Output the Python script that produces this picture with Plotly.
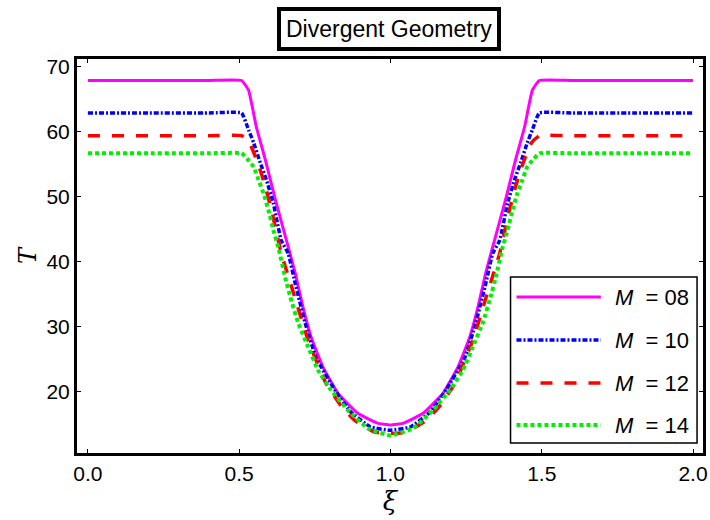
import plotly.graph_objects as go

# ---- data ----
x_m08 = [0.0, 0.2, 0.4, 0.508, 0.531, 0.557, 0.587, 0.620, 0.662, 0.685, 0.711, 0.738, 0.777, 0.826, 0.892, 0.957, 1.0,
         1.043, 1.108, 1.174, 1.223, 1.262, 1.289, 1.315, 1.338, 1.380, 1.413, 1.443, 1.469, 1.492, 1.6, 1.8, 2.0]
t_m08 = [67.8, 67.8, 67.8, 67.8, 66.3, 60.6, 55.5, 49.4, 42.2, 38.2, 32.9, 28.3, 23.7, 19.7, 16.6, 15.1, 14.8,
         15.1, 16.6, 19.7, 23.7, 28.3, 32.9, 38.2, 42.2, 49.4, 55.5, 60.6, 66.3, 67.8, 67.8, 67.8, 67.8]

x_m10 = [0.0, 0.2, 0.4, 0.508, 0.531, 0.548, 0.570, 0.590, 0.613, 0.639, 0.662, 0.685, 0.718, 0.754, 0.816, 0.869, 0.934, 1.0,
         1.066, 1.131, 1.184, 1.246, 1.282, 1.315, 1.338, 1.361, 1.387, 1.410, 1.430, 1.452, 1.469, 1.492, 1.6, 1.8, 2.0]
t_m10 = [62.8, 62.8, 62.8, 62.8, 60.2, 58.2, 55.1, 52.5, 48.9, 43.2, 41.2, 36.6, 30.5, 25.2, 20.2, 16.8, 14.5, 14.0,
         14.5, 16.8, 20.2, 25.2, 30.5, 36.6, 41.2, 43.2, 48.9, 52.5, 55.1, 58.2, 60.2, 62.8, 62.8, 62.8, 62.8]

x_m12 = [0.0, 0.2, 0.4, 0.508, 0.534, 0.564, 0.587, 0.607, 0.623, 0.639, 0.685, 0.728, 0.787, 0.836, 0.882, 0.948, 1.0,
         1.052, 1.118, 1.164, 1.213, 1.272, 1.315, 1.361, 1.377, 1.393, 1.413, 1.436, 1.466, 1.492, 1.6, 1.8, 2.0]
t_m12 = [59.3, 59.3, 59.3, 59.3, 58.2, 54.8, 51.4, 47.8, 44.5, 41.2, 34.3, 27.8, 21.2, 17.8, 15.5, 13.7, 13.5,
         13.7, 15.5, 17.8, 21.2, 27.8, 34.3, 41.2, 44.5, 47.8, 51.4, 54.8, 58.2, 59.3, 59.3, 59.3, 59.3]

x_m14 = [0.0, 0.2, 0.4, 0.508, 0.531, 0.548, 0.564, 0.580, 0.597, 0.613, 0.630, 0.652, 0.669, 0.695, 0.728, 0.761, 0.803, 0.859, 0.925, 1.0,
         1.075, 1.141, 1.197, 1.239, 1.272, 1.305, 1.331, 1.348, 1.370, 1.387, 1.403, 1.420, 1.436, 1.452, 1.469, 1.492, 1.6, 1.8, 2.0]
t_m14 = [56.6, 56.6, 56.6, 56.6, 55.5, 54.5, 52.5, 50.5, 47.8, 44.8, 42.0, 37.5, 34.5, 30.5, 26.8, 23.2, 20.2, 17.1, 14.3, 13.2,
         14.3, 17.1, 20.2, 23.2, 26.8, 30.5, 34.5, 37.5, 42.0, 44.8, 47.8, 50.5, 52.5, 54.5, 55.5, 56.6, 56.6, 56.6, 56.6]

legend_labels = ["08", "10", "12", "14"]
x_ticks = [0.0, 0.5, 1.0, 1.5, 2.0]
x_ticktext = ["0.0", "0.5", "1.0", "1.5", "2.0"]
y_ticks = [20, 30, 40, 50, 60, 70]
title_text = "Divergent Geometry"

series = [
    (x_m08, t_m08, "#FF00FF", "solid", 3),
    (x_m10, t_m10, "#0000FF", "5px,2px,2px,2px", 3.5),
    (x_m12, t_m12, "#FF0000", "12px,12px", 3.5),
    (x_m14, t_m14, "#00F000", "4px,3px", 4),
]

fig = go.Figure()
for xs, ts, col, dash, w in series:
    fig.add_trace(go.Scatter(x=xs, y=ts, mode="lines",
                             line=dict(color=col, dash=dash, width=w, shape="spline", smoothing=0.35),
                             showlegend=False))

FONT = "Liberation Sans"

L, R, T, B = 77, 708, 59, 453
W, H = 710, 520
def px(xp): return (xp - L) / (R - L)
def py(yp): return (B - yp) / (B - T)

shapes = [dict(type="rect", xref="paper", yref="paper", x0=px(514), x1=px(702), y0=py(443), y1=py(277),
               line=dict(color="black", width=1.5), fillcolor="white", layer="above")]
annots = []
rows = [297, 340, 383, 425]
for (xs, ts, col, dash, w), lab, ry in zip(series, legend_labels, rows):
    shapes.append(dict(type="line", xref="paper", yref="paper", x0=px(520), x1=px(605), y0=py(ry), y1=py(ry),
                       line=dict(color=col, dash=dash, width=w), layer="above"))
    annots.append(dict(xref="paper", yref="paper", x=px(617), y=py(ry), xanchor="left", yanchor="middle",
                       text="<i>M</i>\u00a0\u00a0=\u00a0" + lab, showarrow=False,
                       font=dict(family=FONT, size=22, color="black")))

annots.append(dict(xref="paper", yref="paper", x=px(391), y=py(29), xanchor="center", yanchor="middle",
                   text=title_text, showarrow=False, font=dict(family=FONT, size=23, color="black"),
                   bordercolor="black", borderwidth=4, borderpad=5, bgcolor="white"))

fig.update_layout(
    width=W, height=H,
    margin=dict(l=L, r=W - R, t=T, b=H - B),
    paper_bgcolor="white", plot_bgcolor="white",
    shapes=shapes, annotations=annots,
    font=dict(family=FONT, size=21, color="black"),
)
fig.update_xaxes(range=[-0.036, 2.033], tickvals=x_ticks, ticktext=x_ticktext, showgrid=False, zeroline=False,
                 showline=True, linecolor="black", linewidth=3, mirror="allticks", ticks="inside", ticklen=4,
                 tickcolor="black", tickfont=dict(family=FONT, size=21),
                 title=dict(text="<i>ξ</i>", font=dict(family="DejaVu Serif", size=26), standoff=8))
fig.update_yaxes(range=[10.5, 71.1], tickvals=y_ticks, showgrid=False, zeroline=False,
                 showline=True, linecolor="black", linewidth=3, mirror="allticks", ticks="inside", ticklen=4,
                 tickcolor="black", tickfont=dict(family=FONT, size=21),
                 title=dict(text="<i>T</i>", font=dict(family="DejaVu Serif", size=24), standoff=4))

fig.write_html("out.html")
